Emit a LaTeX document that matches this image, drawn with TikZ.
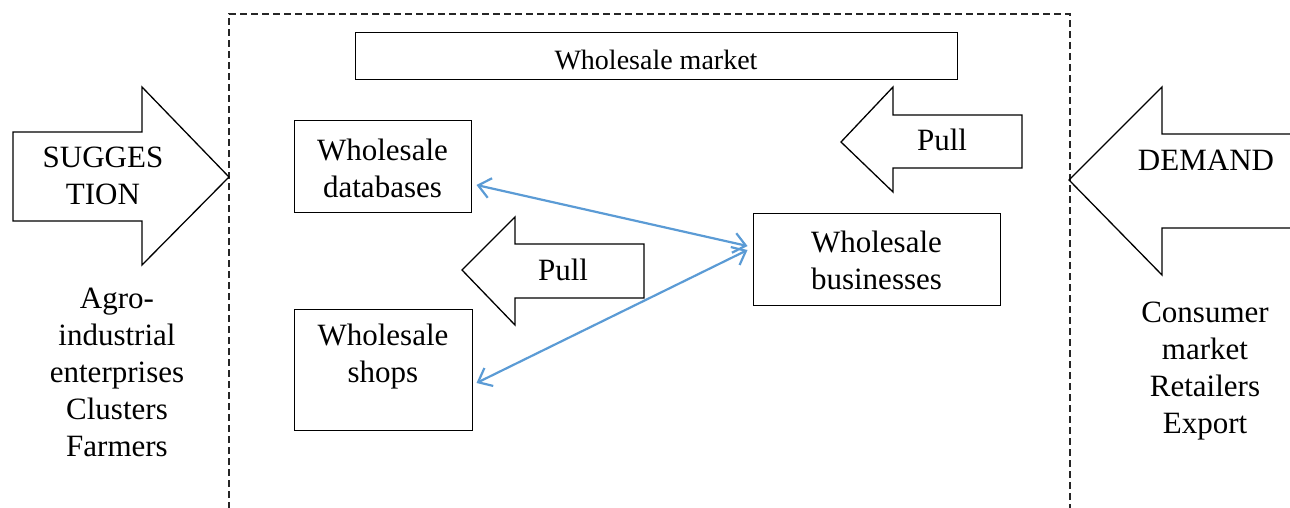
\documentclass[tikz,border=0pt]{standalone}
\usepackage{fontspec}
\setmainfont{Liberation Serif}
\usetikzlibrary{arrows.meta}
\definecolor{linkblue}{HTML}{5B9BD5}
\tikzset{
  box/.style={draw=black, line width=1pt, inner sep=0pt},
  txt/.style={align=center, inner sep=0pt, font=\fontsize{31}{37}\selectfont},
  bigarrow/.style={draw=black, line width=1.3pt, line join=miter},
  link/.style={draw=linkblue, line width=2.2pt, {Straight Barb[length=12pt,width=20pt]}-{Straight Barb[length=12pt,width=20pt]}},
  frame/.style={draw=black!85, line width=1.2pt, dash pattern=on 7pt off 4pt}
}
\begin{document}
\begin{tikzpicture}[x=1pt,y=-1pt]
\useasboundingbox (0,0) rectangle (1290,508);
% dashed frame (open at bottom)
\draw[frame] (229,520) -- (229,14) -- (1070,14) -- (1070,520);
% boxes
\node[box, minimum width=602pt, minimum height=47pt] (market) at (656,56.5) {};
\node[txt, font=\fontsize{28}{34}\selectfont] (markett) at (656,60) {Wholesale market};
\node[box, minimum width=177pt, minimum height=91pt] (db) at (382.5,166.5) {};
\node[txt] (dbt) at (382.5,168) {Wholesale\\databases};
\node[box, minimum width=178pt, minimum height=121pt] (shops) at (383,369.5) {};
\node[txt] (shopst) at (383,357) {Wholesale\\shops};
\node[box, minimum width=247pt, minimum height=92pt] (bus) at (876.5,259) {};
\node[txt] (bust) at (876.5,260) {Wholesale\\businesses};
% SUGGESTION arrow
\draw[bigarrow] (13,132) -- (142,132) -- (142,87) -- (229,177) -- (142,265) -- (142,221) -- (13,221) -- cycle;
\node[txt] (sugg) at (103,176) {SUGGES\\TION};
% DEMAND arrow
\draw[bigarrow] (1300,134) -- (1162,134) -- (1162,87) -- (1069,180) -- (1162,275) -- (1162,228) -- (1300,228);
\node[txt] (dem) at (1206,160) {DEMAND};
% Pull arrows
\draw[bigarrow] (1022,115) -- (893,115) -- (893,87) -- (841,142) -- (893,192) -- (893,168) -- (1022,168) -- cycle;
\node[txt] (pull1) at (942,140) {Pull};
\draw[bigarrow] (644,244) -- (515,244) -- (515,217) -- (462,270) -- (515,325) -- (515,298) -- (644,298) -- cycle;
\node[txt] (pull2) at (563,270) {Pull};
% side texts
\node[txt] (left) at (117,372.5) {Agro-\\industrial\\enterprises\\Clusters\\Farmers};
\node[txt] (right) at (1205,371) {Consumer\\market\\Retailers\\Export};
% connectors
\draw[link] ([shift={(5,18.5)}]db.east) -- ([shift={(-5,-13)}]bus.west);
\draw[link] ([shift={(4,13.5)}]shops.east) -- ([shift={(-5,-9)}]bus.west);
\end{tikzpicture}
\end{document}
